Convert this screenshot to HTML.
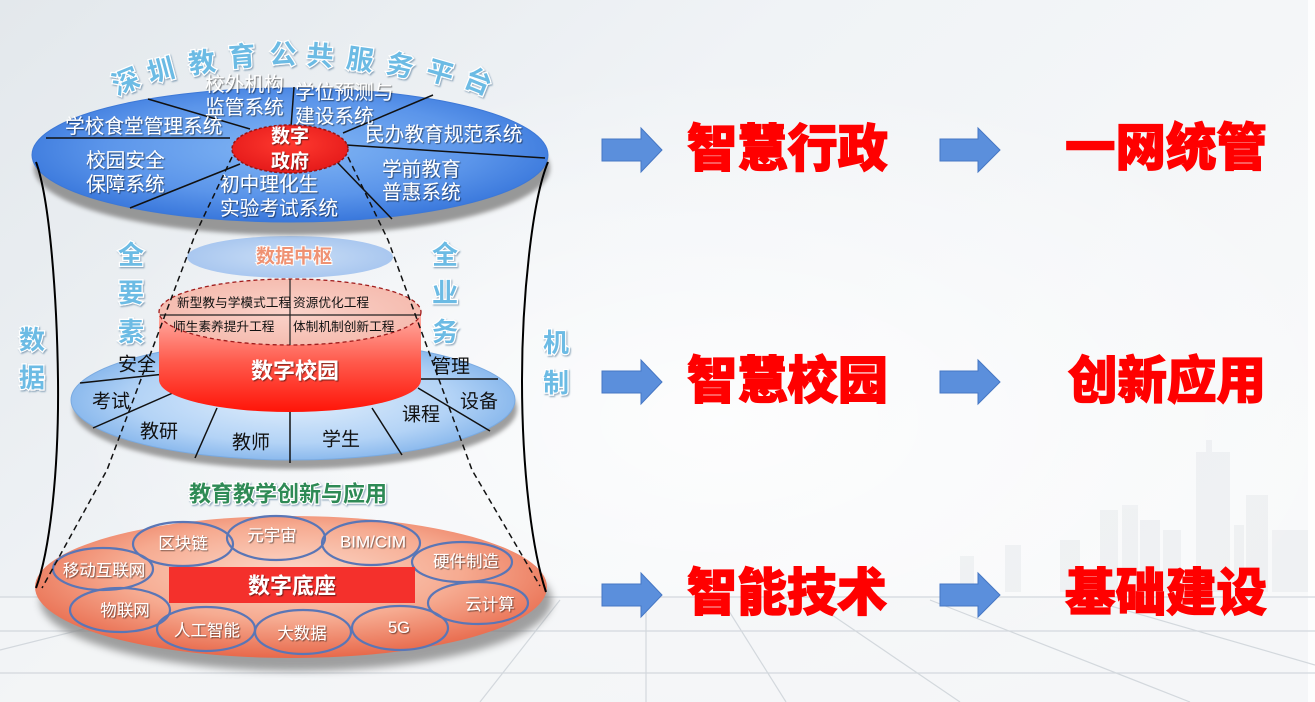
<!DOCTYPE html>
<html><head><meta charset="utf-8">
<style>
html,body{margin:0;padding:0;background:#f2f4f6;}
svg{display:block;}
text{font-family:"Liberation Sans","Noto Sans CJK SC","WenQuanYi Zen Hei",sans-serif;}
</style></head>
<body>
<svg width="1315" height="702" viewBox="0 0 1315 702" xmlns="http://www.w3.org/2000/svg">
<defs>
  <linearGradient id="bg" x1="0" y1="0" x2="1" y2="0.6">
    <stop offset="0" stop-color="#e3e8ec"/>
    <stop offset="0.45" stop-color="#f0f3f6"/>
    <stop offset="1" stop-color="#f8f9fa"/>
  </linearGradient>
  <radialGradient id="glow" cx="0.55" cy="0.6" r="0.5">
    <stop offset="0" stop-color="#ffffff" stop-opacity="0.8"/>
    <stop offset="1" stop-color="#ffffff" stop-opacity="0"/>
  </radialGradient>
  <radialGradient id="topBlue" cx="0.5" cy="0.45" r="0.6">
    <stop offset="0" stop-color="#82b6f4"/>
    <stop offset="0.6" stop-color="#5b95ea"/>
    <stop offset="1" stop-color="#3170d8"/>
  </radialGradient>
  <radialGradient id="midBlue" cx="0.5" cy="0.5" r="0.55">
    <stop offset="0" stop-color="#e2effc"/>
    <stop offset="0.65" stop-color="#b3d3f6"/>
    <stop offset="1" stop-color="#7eb1ea"/>
  </radialGradient>
  <radialGradient id="hubBlue" cx="0.5" cy="0.5" r="0.6">
    <stop offset="0" stop-color="#c9ddf6"/>
    <stop offset="1" stop-color="#a3c3ee"/>
  </radialGradient>
  <radialGradient id="botSalmon" cx="0.5" cy="0.4" r="0.6">
    <stop offset="0" stop-color="#fcd8c9"/>
    <stop offset="0.55" stop-color="#f6ab91"/>
    <stop offset="1" stop-color="#e8694b"/>
  </radialGradient>
  <linearGradient id="cylBody" x1="0" y1="312" x2="0" y2="412" gradientUnits="userSpaceOnUse">
    <stop offset="0" stop-color="#ffb2a8"/>
    <stop offset="0.5" stop-color="#ff5a4c"/>
    <stop offset="1" stop-color="#ff1408"/>
  </linearGradient>
  <radialGradient id="cylTop" cx="0.5" cy="0.5" r="0.6">
    <stop offset="0" stop-color="#fbd3ca"/>
    <stop offset="1" stop-color="#f4b8ab"/>
  </radialGradient>
  <radialGradient id="redCore" cx="0.5" cy="0.4" r="0.6">
    <stop offset="0" stop-color="#ff3a30"/>
    <stop offset="1" stop-color="#e51a1a"/>
  </radialGradient>
  <filter id="blur4" x="-20%" y="-40%" width="140%" height="180%"><feGaussianBlur stdDeviation="4"/></filter>
  <filter id="blur2" x="-20%" y="-40%" width="140%" height="180%"><feGaussianBlur stdDeviation="2"/></filter>
  <filter id="ts" x="-10%" y="-20%" width="130%" height="150%">
    <feDropShadow dx="1" dy="1" stdDeviation="0.6" flood-color="#000" flood-opacity="0.55"/>
  </filter>
  <filter id="ts2" x="-10%" y="-20%" width="130%" height="150%">
    <feDropShadow dx="1" dy="1.2" stdDeviation="0.8" flood-color="#2a5a80" flood-opacity="0.5"/>
  </filter>
</defs>

<!-- background -->
<rect x="0" y="0" width="1315" height="702" fill="url(#bg)"/>
<rect x="0" y="0" width="1315" height="702" fill="url(#glow)"/>
<rect x="0" y="597" width="1315" height="105" fill="#f3f5f7" opacity="0.7"/>
<rect x="1308" y="0" width="7" height="702" fill="#ffffff" opacity="0.8"/>

<!-- skyline -->
<g fill="#d9dee3" opacity="0.3">
  <rect x="1196" y="452" width="34" height="140"/>
  <rect x="1206" y="440" width="6" height="14"/>
  <rect x="1246" y="495" width="22" height="97"/>
  <rect x="1100" y="510" width="18" height="82"/>
  <rect x="1122" y="505" width="16" height="87"/>
  <rect x="1140" y="520" width="20" height="72"/>
  <rect x="1163" y="530" width="18" height="62"/>
  <rect x="1060" y="540" width="20" height="52"/>
  <rect x="1005" y="545" width="16" height="47"/>
  <rect x="1272" y="530" width="36" height="62"/>
  <rect x="1234" y="525" width="10" height="67"/>
  <rect x="960" y="556" width="14" height="36"/>
</g>

<!-- floor lines -->
<g stroke="#d3d8dd" stroke-width="1.2" fill="none">
  <line x1="0" y1="597" x2="1315" y2="597"/>
  <line x1="0" y1="631" x2="1315" y2="631"/>
  <line x1="0" y1="673" x2="1315" y2="673"/>
  <line x1="646" y1="600" x2="646" y2="702"/>
  <line x1="722" y1="600" x2="786" y2="702"/>
  <line x1="810" y1="600" x2="960" y2="702"/>
  <line x1="930" y1="600" x2="1190" y2="702"/>
  <line x1="1090" y1="600" x2="1315" y2="665"/>
  <line x1="560" y1="600" x2="480" y2="702"/>
  <line x1="0" y1="650" x2="120" y2="620"/>
</g>

<!-- data hub ellipse -->
<ellipse cx="290" cy="257" rx="103" ry="21" fill="url(#hubBlue)"/>
<text x="294" y="257" font-size="19" font-weight="bold" fill="#ef9273" stroke="#ffffff" stroke-width="2" paint-order="stroke" text-anchor="middle" dominant-baseline="central">数据中枢</text>

<!-- TOP platform -->
<ellipse cx="292" cy="168" rx="258" ry="67" fill="#8e8e8e" filter="url(#blur2)" opacity="0.9"/>
<ellipse cx="290" cy="155" rx="258" ry="67" fill="url(#topBlue)" stroke="#3d78d6" stroke-width="1"/>
<g stroke="#111" stroke-width="1.5">
  <line x1="148" y1="99" x2="250" y2="129"/>
  <line x1="46" y1="138" x2="230" y2="138"/>
  <line x1="130" y1="208" x2="240" y2="164"/>
  <line x1="294" y1="87" x2="291" y2="127"/>
  <line x1="433" y1="95" x2="343" y2="133"/>
  <line x1="346" y1="145" x2="545" y2="158"/>
  <line x1="337" y1="162" x2="392" y2="219"/>
</g>
<ellipse cx="290" cy="149" rx="58" ry="24" fill="url(#redCore)" stroke="#9a1414" stroke-width="1.5" stroke-dasharray="3,2"/>
<g font-size="19" font-weight="bold" fill="#ffffff" text-anchor="middle" dominant-baseline="central" filter="url(#ts)">
  <text x="290" y="137">数字</text>
  <text x="290" y="162">政府</text>
</g>
<g font-size="19.7" fill="#ffffff" dominant-baseline="central" filter="url(#ts)">
  <text x="205" y="85">校外机构</text>
  <text x="205" y="108">监管系统</text>
  <text x="295" y="93">学位预测与</text>
  <text x="295" y="117">建设系统</text>
  <text x="65" y="127">学校食堂管理系统</text>
  <text x="365" y="135">民办教育规范系统</text>
  <text x="86" y="161">校园安全</text>
  <text x="86" y="185">保障系统</text>
  <text x="220" y="185">初中理化生</text>
  <text x="220" y="209">实验考试系统</text>
  <text x="382" y="170">学前教育</text>
  <text x="382" y="193">普惠系统</text>
</g>

<!-- MIDDLE platform -->
<ellipse cx="295" cy="409" rx="222" ry="60" fill="#8e8e8e" filter="url(#blur2)" opacity="0.85"/>
<ellipse cx="293" cy="400" rx="222" ry="60" fill="url(#midBlue)" stroke="#7aaae0" stroke-width="1"/>
<g stroke="#111" stroke-width="1.5">
  <line x1="80" y1="383" x2="165" y2="374"/>
  <line x1="93" y1="428" x2="175" y2="392"/>
  <line x1="195" y1="458" x2="217" y2="408"/>
  <line x1="290" y1="410" x2="290" y2="463"/>
  <line x1="372" y1="408" x2="402" y2="455"/>
  <line x1="418" y1="388" x2="490" y2="431"/>
  <line x1="421" y1="379" x2="498" y2="379"/>
</g>
<g font-size="19" fill="#111" dominant-baseline="central">
  <text x="118" y="365">安全</text>
  <text x="92" y="402">考试</text>
  <text x="140" y="432">教研</text>
  <text x="232" y="443">教师</text>
  <text x="322" y="440">学生</text>
  <text x="402" y="415">课程</text>
  <text x="460" y="402">设备</text>
  <text x="432" y="367">管理</text>
</g>

<!-- cylinder -->
<path d="M159,312 L159,380 A131,32 0 0 0 421,380 L421,312 Z" fill="url(#cylBody)"/>
<ellipse cx="290" cy="312" rx="131" ry="33" fill="url(#cylTop)" stroke="#a01c1c" stroke-width="1.3" stroke-dasharray="4,3"/>
<g stroke="#222" stroke-width="1.2">
  <line x1="290" y1="279" x2="290" y2="345"/>
  <line x1="160" y1="315" x2="420" y2="315"/>
</g>
<g font-size="12.7" fill="#111" dominant-baseline="central">
  <text x="177" y="303">新型教与学模式工程</text>
  <text x="293" y="303">资源优化工程</text>
  <text x="173" y="327">师生素养提升工程</text>
  <text x="293" y="327">体制机制创新工程</text>
</g>
<text x="295" y="371" font-size="22" font-weight="bold" fill="#ffffff" text-anchor="middle" dominant-baseline="central" filter="url(#ts)">数字校园</text>

<!-- green label -->
<text x="288" y="494" font-size="22" font-weight="bold" fill="#2f8a55" stroke="#ffffff" stroke-width="2.5" paint-order="stroke" text-anchor="middle" dominant-baseline="central" filter="url(#ts2)">教育教学创新与应用</text>

<!-- BOTTOM platform -->
<ellipse cx="296" cy="600" rx="256" ry="71" fill="#7a7a7a" filter="url(#blur4)" opacity="0.7"/>
<ellipse cx="291" cy="587" rx="256" ry="71" fill="url(#botSalmon)"/>
<g fill="none" stroke="#5a76b6" stroke-width="2.2">
  <ellipse cx="103" cy="569" rx="50" ry="21"/>
  <ellipse cx="183" cy="544" rx="50" ry="22"/>
  <ellipse cx="276" cy="538" rx="49" ry="22"/>
  <ellipse cx="371" cy="543" rx="49" ry="22"/>
  <ellipse cx="462" cy="562" rx="50" ry="20"/>
  <ellipse cx="478" cy="603" rx="50" ry="21"/>
  <ellipse cx="400" cy="628" rx="48" ry="22"/>
  <ellipse cx="303" cy="632" rx="48" ry="22"/>
  <ellipse cx="206" cy="629" rx="49" ry="22"/>
  <ellipse cx="120" cy="610" rx="50" ry="22"/>
</g>
<rect x="169" y="567" width="246" height="36" fill="#f4302c"/>
<text x="292" y="586" font-size="22" font-weight="bold" fill="#ffffff" text-anchor="middle" dominant-baseline="central" filter="url(#ts)">数字底座</text>
<g font-size="16.5" fill="#ffffff" text-anchor="middle" dominant-baseline="central" filter="url(#ts)">
  <text x="104" y="571">移动互联网</text>
  <text x="183" y="544">区块链</text>
  <text x="272" y="536">元宇宙</text>
  <text x="373" y="542" font-size="17">BIM/CIM</text>
  <text x="466" y="562">硬件制造</text>
  <text x="490" y="605">云计算</text>
  <text x="399" y="628">5G</text>
  <text x="302" y="634">大数据</text>
  <text x="207" y="631">人工智能</text>
  <text x="125" y="611">物联网</text>
</g>

<!-- side labels -->
<g font-size="26" font-weight="bold" fill="#6cbbe4" stroke="#ffffff" stroke-width="2.5" paint-order="stroke" text-anchor="middle" dominant-baseline="central" filter="url(#ts2)">
  <text x="131" y="255">全</text>
  <text x="131" y="293">要</text>
  <text x="131" y="332">素</text>
  <text x="445" y="255">全</text>
  <text x="445" y="293">业</text>
  <text x="445" y="332">务</text>
  <text x="32" y="340">数</text>
  <text x="32" y="378">据</text>
  <text x="556" y="343">机</text>
  <text x="556" y="383">制</text>
</g>

<!-- arched title -->
<g font-size="27" font-weight="bold" fill="#6cbbe4" stroke="#ffffff" stroke-width="2.5" paint-order="stroke" text-anchor="middle" dominant-baseline="central" filter="url(#ts2)">
  <text transform="translate(126,82) rotate(-22)">深</text>
  <text transform="translate(161,71) rotate(-15)">圳</text>
  <text transform="translate(202,63) rotate(-9)">教</text>
  <text transform="translate(242,57) rotate(-4)">育</text>
  <text transform="translate(283,55) rotate(0)">公</text>
  <text transform="translate(320,56) rotate(4)">共</text>
  <text transform="translate(360,60) rotate(8)">服</text>
  <text transform="translate(400,66) rotate(12)">务</text>
  <text transform="translate(440,73) rotate(16)">平</text>
  <text transform="translate(478,82) rotate(22)">台</text>
</g>

<!-- hourglass curves -->
<g fill="none" stroke="#000" stroke-width="2">
  <path d="M36,162 C50,200 57,300 58,380 C59,470 50,550 36,588"/>
  <path d="M548,162 C532,200 522,300 522,380 C522,470 532,550 546,592"/>
</g>
<!-- dashed connectors -->
<g fill="none" stroke="#111" stroke-width="1.5" stroke-dasharray="6,4">
  <polyline points="232,157 195,235 107,470 42,588"/>
  <polyline points="348,157 388,240 472,470 540,586"/>
</g>

<!-- arrows -->
<g fill="#5b8fdc" stroke="#4677c4" stroke-width="1">
  <polygon points="602,139 641,139 641,128 662,150 641,172 641,161 602,161"/>
  <polygon points="940,139 978,139 978,128 1000,150 978,172 978,161 940,161"/>
  <polygon points="602,371 641,371 641,360 662,382 641,404 641,393 602,393"/>
  <polygon points="940,371 978,371 978,360 1000,382 978,404 978,393 940,393"/>
  <polygon points="602,584 641,584 641,573 662,595 641,617 641,606 602,606"/>
  <polygon points="940,584 978,584 978,573 1000,595 978,617 978,606 940,606"/>
</g>

<!-- red headings -->
<g font-size="51" font-weight="900" fill="#ff0000" stroke="#ff0000" stroke-width="1.2" dominant-baseline="central">
  <text x="687" y="149" textLength="201" lengthAdjust="spacingAndGlyphs">智慧行政</text>
  <text x="1065" y="148" textLength="202" lengthAdjust="spacingAndGlyphs">一网统管</text>
  <text x="687" y="381" textLength="201" lengthAdjust="spacingAndGlyphs">智慧校园</text>
  <text x="1068" y="381" textLength="198" lengthAdjust="spacingAndGlyphs">创新应用</text>
  <text x="687" y="593" textLength="200" lengthAdjust="spacingAndGlyphs">智能技术</text>
  <text x="1065" y="593" textLength="202" lengthAdjust="spacingAndGlyphs">基础建设</text>
</g>
</svg>
</body></html>
